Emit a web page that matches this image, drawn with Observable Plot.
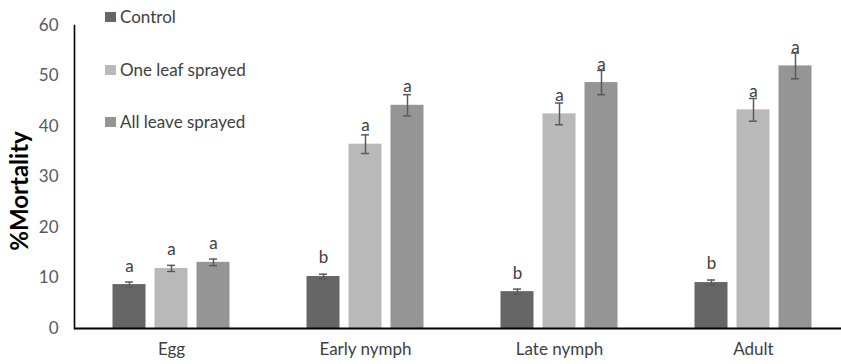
<!DOCTYPE html>
<html>
<head>
<meta charset="utf-8">
<script src="https://cdn.jsdelivr.net/npm/d3@7"></script>
<script src="https://cdn.jsdelivr.net/npm/@observablehq/plot@0.6"></script>
<style>
  html, body { margin: 0; padding: 0; background: #fff; }
  #wrap { position: relative; width: 841px; height: 364px; font-family: Lato, "Open Sans", sans-serif; }
  .leg { position: absolute; left: 105px; display: flex; align-items: center; font-size: 17px; color: #404040; }
  .leg span.sw { display: inline-block; width: 11px; height: 10px; margin-right: 4px; }
  #ylabel { position: absolute; left: 18px; top: 191px; transform: translate(-50%, -50%) rotate(-90deg);
            font-size: 24px; font-weight: bold; color: #000; white-space: nowrap; }
</style>
</head>
<body>
<div id="wrap"></div>
<script>
const categories = ["Egg", "Early nymph", "Late nymph", "Adult"];
const series = ["Control", "One leaf sprayed", "All leave sprayed"];
const control = [8.7, 10.3, 7.3, 9.1];
const oneLeaf = [11.9, 36.5, 42.5, 43.3];
const allLeaves = [13.1, 44.2, 48.7, 52.0];
const controlErr = [0.5, 0.45, 0.5, 0.5];
const oneLeafErr = [0.6, 1.85, 2.15, 2.25];
const allLeavesErr = [0.65, 2.1, 2.4, 2.55];
const controlLetters = ["a", "b", "b", "b"];
const oneLeafLetters = ["a", "a", "a", "a"];
const allLeavesLetters = ["a", "a", "a", "a"];
const yTicks = [0, 10, 20, 30, 40, 50, 60];
const colors = ["#666666", "#b9b9b9", "#959595"];

const valuesBySeries = [control, oneLeaf, allLeaves];
const errBySeries = [controlErr, oneLeafErr, allLeavesErr];
const lettersBySeries = [controlLetters, oneLeafLetters, allLeavesLetters];

const rows = [];
categories.forEach((c, i) => {
  series.forEach((s, j) => {
    rows.push({
      category: c, series: s,
      value: valuesBySeries[j][i],
      lo: valuesBySeries[j][i] - errBySeries[j][i],
      hi: valuesBySeries[j][i] + errBySeries[j][i],
      letter: lettersBySeries[j][i]
    });
  });
});

const chart = Plot.plot({
  width: 841,
  height: 364,
  marginLeft: 73.5,
  marginRight: -10,
  marginTop: 25,
  marginBottom: 36,
  style: { fontFamily: "Lato, 'Open Sans', sans-serif", background: "transparent", overflow: "visible" },
  fx: { domain: categories, padding: 0, label: null },
  x: { domain: series, paddingInner: 0.21, paddingOuter: 0.865, axis: null },
  y: { domain: [0, 60], ticks: yTicks, label: null },
  color: { domain: series, range: colors },
  marks: [
    Plot.axisY({ ticks: yTicks, tickSize: 0, tickPadding: 16, fontSize: 17, fill: "#595959", label: null }),
    Plot.axisFx({ anchor: "bottom", tickSize: 0, tickPadding: 14, fontSize: 17, fill: "#404040", label: null }),
    Plot.frame({ anchor: "left", fx: () => categories[0], stroke: "#000", strokeWidth: 1.6 }),
    Plot.barY(rows, { fx: "category", x: "series", y: "value", fill: "series" }),
    Plot.ruleX(rows, { fx: "category", x: "series", y1: "lo", y2: "hi", stroke: "#595959", strokeWidth: 1.5 }),
    Plot.tickY(rows, { fx: "category", x: "series", y: "hi", stroke: "#595959", strokeWidth: 1.5, insetLeft: 12.5, insetRight: 12.5 }),
    Plot.tickY(rows, { fx: "category", x: "series", y: "lo", stroke: "#595959", strokeWidth: 1.5, insetLeft: 12.5, insetRight: 12.5 }),
    Plot.text(rows, { fx: "category", x: "series", y: "value", text: "letter", dy: -18.5, fontSize: 17, fill: "#404040", lineAnchor: "middle" }),
    Plot.ruleY([0], { stroke: "#000", strokeWidth: 2 })
  ]
});

const wrap = document.getElementById("wrap");
wrap.appendChild(chart);

const legTops = [17, 70, 122];
series.forEach((s, j) => {
  const d = document.createElement("div");
  d.className = "leg";
  d.style.top = (legTops[j] - 11) + "px";
  d.innerHTML = `<span class="sw" style="background:${colors[j]}"></span><span>${s}</span>`;
  wrap.appendChild(d);
});
const yl = document.createElement("div");
yl.id = "ylabel";
yl.textContent = "%Mortality";
wrap.appendChild(yl);
</script>
</body>
</html>
